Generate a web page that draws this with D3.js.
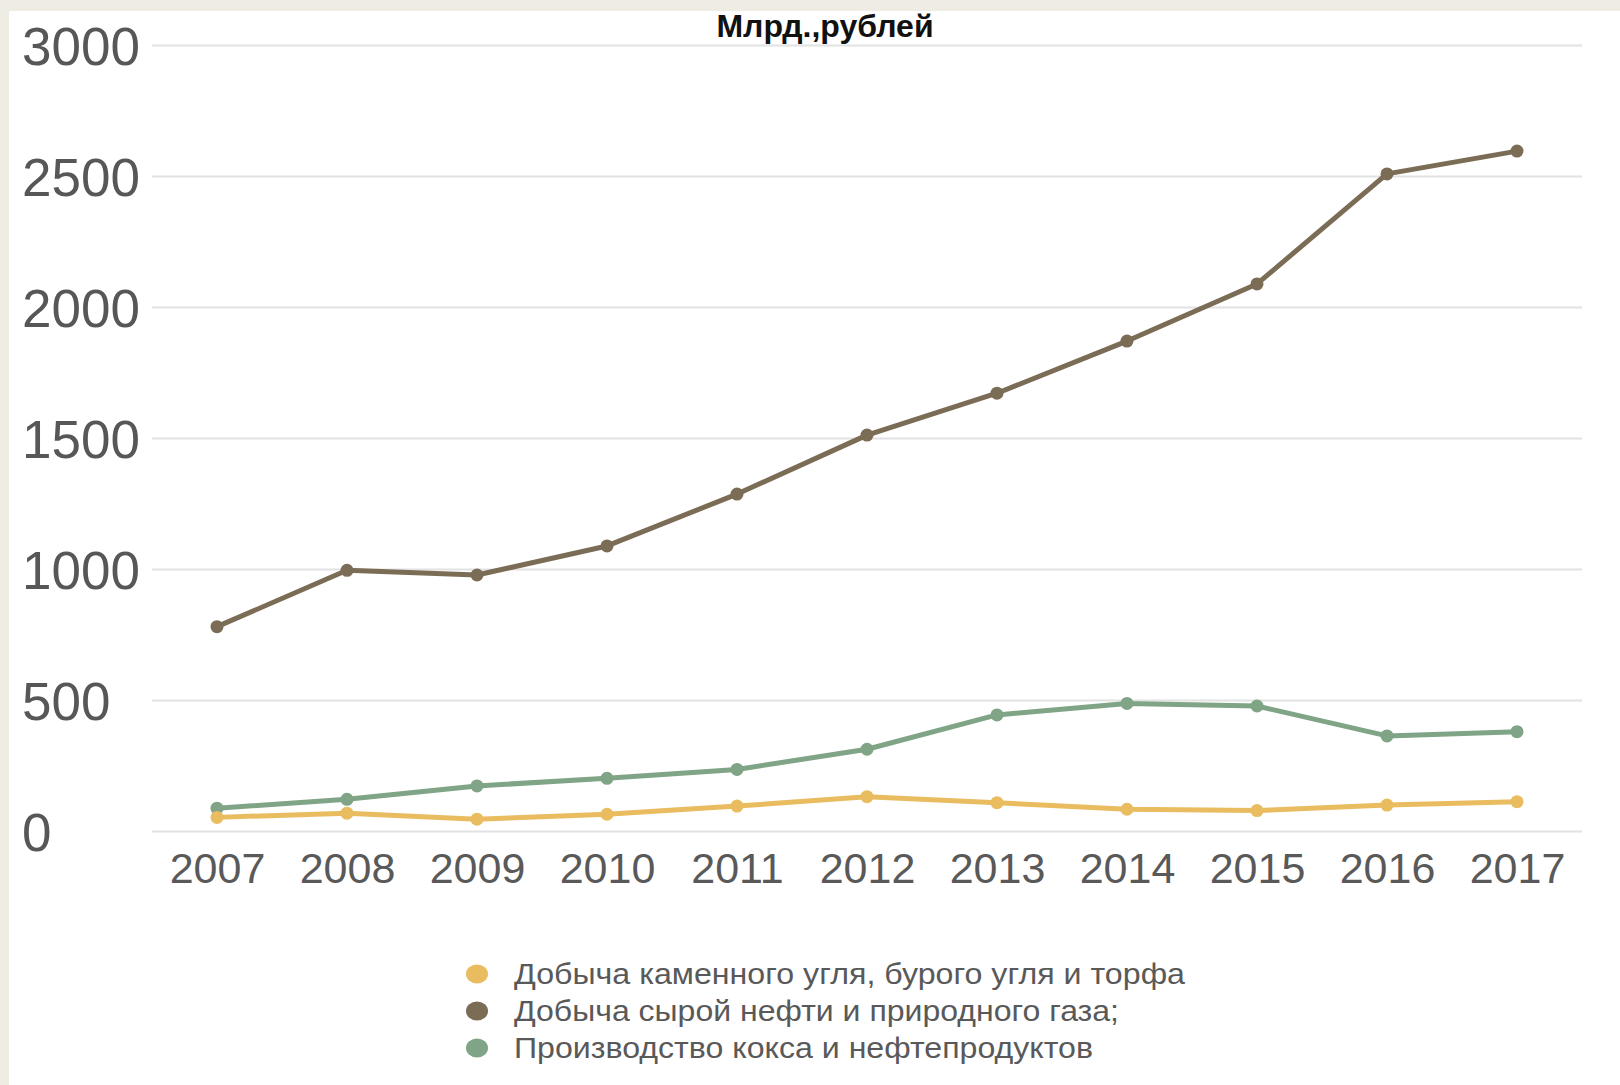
<!DOCTYPE html>
<html>
<head>
<meta charset="utf-8">
<script src="https://cdn.jsdelivr.net/npm/d3@7"></script>
<style>
  body { margin: 0; background: #efece4; }
  text { font-family: "Liberation Sans", Arial, sans-serif; }
</style>
</head>
<body>
<div id="chart"></div>
<script>
(function(){

  let width = 1620;
  let height = 1085;

  // data
  var years = ["2007","2008","2009","2010","2011","2012","2013","2014","2015","2016","2017"];
  var coal = [52, 68, 45, 64, 95, 131, 108, 83, 78, 99, 112];
  var oilGas = [780, 995, 977, 1088, 1286, 1511, 1671, 1870, 2088, 2508, 2595];
  var coke = [87, 121, 172, 201, 235, 312, 443, 487, 477, 363, 379];
  var yTicks = [0, 500, 1000, 1500, 2000, 2500, 3000];
  var seriesNames = [
    "Добыча каменного угля, бурого угля и торфа",
    "Добыча сырой нефти и природного газа;",
    "Производство кокса и нефтепродуктов"
  ];
  var colors = ["#e9bc60", "#7b6c56", "#7fa486"];

  let svg = d3.select('#chart')
            .append("svg")
            .attr("width", width)
            .attr("height", height);

  // white panel over the beige page
  svg.append("rect")
    .attr("x", 9).attr("y", 11)
    .attr("width", width - 9).attr("height", height - 11)
    .attr("fill", "#ffffff");

  var x = d3.scalePoint().domain(years).range([152, 1582]).padding(0.5);
  var y = d3.scaleLinear().domain([0, 3000]).range([831, 45]);

  // y axis + gridlines
  var yAxis = svg.append("g")
    .attr("transform", "translate(152,0)")
    .call(d3.axisLeft(y).tickValues(yTicks).tickSize(-(1582 - 152)).tickFormat(d3.format("d")));
  yAxis.select(".domain").remove();
  yAxis.selectAll(".tick line").attr("stroke", "#e2e2e2").attr("stroke-width", 2);
  yAxis.selectAll(".tick text")
    .attr("x", 22 - 152)
    .attr("dy", "0.36em")
    .attr("text-anchor", "start")
    .attr("font-size", 53)
    .attr("fill", "#575757");

  // x axis labels
  var xAxis = svg.append("g")
    .attr("transform", "translate(0,831)")
    .call(d3.axisBottom(x).tickSize(0).tickPadding(0));
  xAxis.select(".domain").remove();
  xAxis.selectAll(".tick text")
    .attr("y", 52)
    .attr("dy", 0)
    .attr("font-size", 43)
    .attr("fill", "#595959");

  // title
  svg.append("text")
    .attr("x", 825).attr("y", 37)
    .attr("text-anchor", "middle")
    .attr("font-size", 32)
    .attr("font-weight", "bold")
    .attr("fill", "#111")
    .text("Млрд.,рублей");

  var allSeries = [coal, oilGas, coke];
  var line = d3.line()
    .x(function(d, i){ return x(years[i]); })
    .y(function(d){ return y(d); });

  // draw order: oil/gas, coke, coal on top
  [1, 2, 0].forEach(function(k){
    var g = svg.append("g");
    g.append("path")
      .datum(allSeries[k])
      .attr("d", line)
      .attr("fill", "none")
      .attr("stroke", colors[k])
      .attr("stroke-width", 5)
      .attr("stroke-linejoin", "round");
    g.selectAll("circle")
      .data(allSeries[k])
      .enter().append("circle")
      .attr("cx", function(d, i){ return x(years[i]); })
      .attr("cy", function(d){ return y(d); })
      .attr("r", 6.5)
      .attr("fill", colors[k]);
  });

  // legend
  var legendWidths = [671, 605, 579];
  var legend = svg.selectAll(".legend")
    .data(seriesNames)
    .enter().append("g")
    .attr("class", "legend")
    .attr("transform", function(d, i){ return "translate(477," + (974 + i * 37) + ")"; });
  legend.append("ellipse")
    .attr("rx", 11).attr("ry", 9.5)
    .attr("fill", function(d, i){ return colors[i]; });
  legend.append("text")
    .attr("x", 37).attr("y", 10)
    .attr("font-size", 29)
    .attr("fill", "#595959")
    .attr("textLength", function(d, i){ return legendWidths[i]; })
    .attr("lengthAdjust", "spacingAndGlyphs")
    .text(function(d){ return d; });

})();
</script>
</body>
</html>
